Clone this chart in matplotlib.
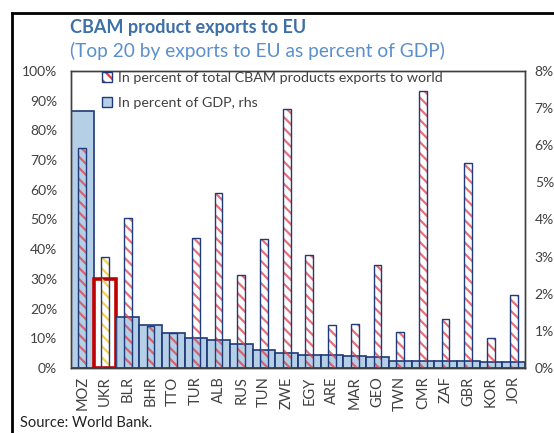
import matplotlib
matplotlib.use("Agg")
import matplotlib.pyplot as plt
from matplotlib.patches import Patch
from matplotlib.lines import Line2D
from matplotlib.colors import to_rgba
import numpy as np

countries = ['MOZ', 'UKR', 'BLR', 'BHR', 'TTO', 'TUR', 'ALB', 'RUS', 'TUN', 'ZWE',
             'EGY', 'ARE', 'MAR', 'GEO', 'TWN', 'CMR', 'ZAF', 'GBR', 'KOR', 'JOR']
share_world = [74.0, 37.3, 50.4, 14.0, 11.8, 43.7, 58.8, 31.3, 43.3, 87.2,
               38.0, 14.4, 14.8, 34.7, 12.2, 93.4, 16.4, 69.1, 10.0, 24.6]
share_gdp = [6.93, 2.39, 1.37, 1.15, 0.95, 0.80, 0.75, 0.65, 0.48, 0.40,
             0.34, 0.35, 0.32, 0.29, 0.20, 0.20, 0.20, 0.20, 0.16, 0.16]
highlight = 'UKR'

plt.rcParams['font.family'] = ['Lato', 'DejaVu Sans']
plt.rcParams['hatch.linewidth'] = 1.6

navy = '#1f3a78'
red = '#e0404a'
yellow = '#f2cf4a'
blue_fill = to_rgba('#9dbfe0', 0.75)
txt = '#404040'

fig = plt.figure(figsize=(5.54, 4.33), dpi=100)
ax2 = fig.add_axes([71 / 554, 1 - 368 / 433, 454 / 554, 297 / 433])
ax = ax2.twinx()   # left-axis series drawn on top of the GDP bars
ax.yaxis.tick_left()
ax2.yaxis.tick_right()
ax.patch.set_visible(False)

x = np.arange(len(countries))

# GDP bars (rhs)
gdp = ax2.bar(x, share_gdp, width=1.0, color=blue_fill, edgecolor=navy,
              linewidth=1.2, zorder=2)
for p, c in zip(gdp.patches, countries):
    if c == highlight:
        p.set_facecolor('white')
        p.set_edgecolor('#c00000')
        p.set_linewidth(2.6)

# hatched bars (lhs): hatch pass then outline pass
hatch_cols = [to_rgba(yellow, 0.95) if c == highlight else to_rgba(red, 0.75)
              for c in countries]
ax.bar(x, share_world, width=0.34, color='none', edgecolor=hatch_cols,
       hatch='\\\\\\', linewidth=0, zorder=2)
ax.bar(x, share_world, width=0.34, color='none', edgecolor=navy,
       linewidth=1.0, zorder=3)

ax.set_xlim(-0.5, len(countries) - 0.5)
ax.set_ylim(0, 100)
ax2.set_ylim(0, 8)
ax.set_yticks(np.arange(0, 101, 10))
ax.set_yticklabels([f'{v}%' for v in range(0, 101, 10)])
ax2.set_yticks(np.arange(0, 9, 1))
ax2.set_yticklabels([f'{v}%' for v in range(0, 9)])
ax2.set_xticks(x)
ax2.set_xticklabels(countries, rotation=90)

ax.tick_params(axis='y', length=0, pad=10, labelsize=10, labelcolor=txt)
ax2.tick_params(axis='y', length=0, pad=7, labelsize=10, labelcolor=txt)
ax2.tick_params(axis='x', length=0, pad=6, labelsize=10.5, labelcolor=txt)
for a in (ax, ax2):
    for s in a.spines.values():
        s.set_color('#404040')
        s.set_linewidth(1.0)

h1 = (Patch(facecolor='white', edgecolor=red, hatch='\\\\\\', linewidth=0),
      Patch(facecolor='none', edgecolor=navy, linewidth=1.0))
h2 = Patch(facecolor=blue_fill, edgecolor=navy, linewidth=1.0)
leg = ax.legend([h1, h2], ['In percent of total CBAM products exports to world',
                           'In percent of GDP, rhs'],
                loc='upper left', bbox_to_anchor=(0.068, 0.995), frameon=False,
                borderpad=0, borderaxespad=0, handlelength=0.7, handleheight=0.7,
                handletextpad=0.4, labelspacing=0.85, fontsize=10.3)
for t in leg.get_texts():
    t.set_color(txt)

fig.text(70 / 554, 1 - 27 / 433, 'CBAM product exports to EU', fontsize=13,
         fontweight='bold', color='#3d6fa8', va='center', ha='left')
fig.text(70 / 554, 1 - 51 / 433, '(Top 20 by exports to EU as percent of GDP)',
         fontsize=13.8, color='#5b8fcc', va='center', ha='left')
fig.text(20 / 554, 1 - 423 / 433, 'Source: World Bank.', fontsize=10.5,
         color='#222222', va='center', ha='left')

# frame around the figure (left and top edges visible)
fig.add_artist(Line2D([12 / 554, 12 / 554], [0, 1 - 13 / 433], color='black', lw=2))
fig.add_artist(Line2D([12 / 554, 1], [1 - 13 / 433, 1 - 13 / 433], color='black', lw=2))

fig.savefig('out.png', dpi=100)
